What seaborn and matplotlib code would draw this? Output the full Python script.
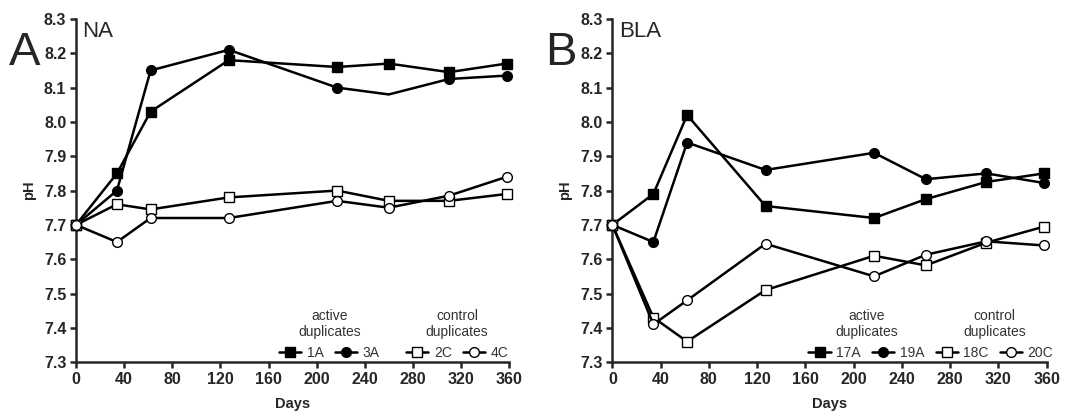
import numpy as np
import pandas as pd
import seaborn as sns
import matplotlib.pyplot as plt
from matplotlib.lines import Line2D

sns.set_style("ticks")
plt.rcParams['font.family'] = ['Liberation Sans', 'DejaVu Sans']

days = [0, 34, 62, 127, 217, 260, 310, 358]

# panel A - NA
na_1A = [7.70, 7.85, 8.03, 8.18, 8.16, 8.17, 8.145, 8.17]
na_3A = [7.70, 7.80, 8.15, 8.21, 8.10, 8.08, 8.125, 8.135]
na_2C = [7.70, 7.76, 7.745, 7.78, 7.80, 7.77, 7.77, 7.79]
na_4C = [7.70, 7.65, 7.72, 7.72, 7.77, 7.75, 7.785, 7.84]

# panel B - BLA
bla_17A = [7.70, 7.79, 8.02, 7.755, 7.72, 7.775, 7.825, 7.85]
bla_19A = [7.70, 7.65, 7.94, 7.86, 7.91, 7.833, 7.85, 7.822]
bla_18C = [7.70, 7.43, 7.36, 7.51, 7.61, 7.582, 7.648, 7.695]
bla_20C = [7.70, 7.41, 7.48, 7.645, 7.55, 7.613, 7.652, 7.64]

panels = [
    ('A', 'NA', [('1A', na_1A), ('3A', na_3A), ('2C', na_2C), ('4C', na_4C)]),
    ('B', 'BLA', [('17A', bla_17A), ('19A', bla_19A), ('18C', bla_18C), ('20C', bla_20C)]),
]

styles = [('s', 'black'), ('o', 'black'), ('s', 'white'), ('o', 'white')]

fig = plt.figure(figsize=(10.8, 4.12), dpi=100)
ax_pos = [[0.0704, 0.121, 0.401, 0.833], [0.567, 0.121, 0.402, 0.833]]

for i, (letter, name, series) in enumerate(panels):
    ax = fig.add_axes(ax_pos[i])
    for j, (lab, vals) in enumerate(series):
        mk, fc = styles[j]
        every = list(range(len(days)))
        if i == 0 and lab == '3A':
            every.remove(5)  # no marker drawn at day 260 for 3A
        sns.lineplot(x=days, y=vals, ax=ax, color='black', lw=1.8, sort=False,
                     estimator=None, marker=mk, markersize=7, markerfacecolor=fc,
                     markeredgecolor='black', markeredgewidth=1.0, markevery=every,
                     zorder=3, clip_on=False)
    ax.set_xlim(0, 360)
    ax.set_ylim(7.3, 8.3)
    ax.set_xticks(np.arange(0, 361, 40))
    ax.set_yticks(np.arange(7.3, 8.31, 0.1))
    ax.set_yticklabels([f'{v:.1f}' for v in np.arange(7.3, 8.31, 0.1)])
    ax.tick_params(direction='out', length=4, width=1.8, labelsize=11.5, pad=3)
    for t in ax.get_xticklabels() + ax.get_yticklabels():
        t.set_fontweight('bold')
    sns.despine(ax=ax)
    for s in ['left', 'bottom']:
        ax.spines[s].set_linewidth(1.8)
    ax.set_xlabel('Days', fontweight='bold', fontsize=10.5, labelpad=7)
    ax.set_ylabel('pH', fontweight='bold', fontsize=10.5, labelpad=6)
    ax.text(0.015, 0.995, name, transform=ax.transAxes, fontsize=16, va='top', ha='left')
    ax.text(-0.155, 0.9, letter, transform=ax.transAxes, fontsize=34, va='center', ha='left')

    handles = []
    for j, (lab, vals) in enumerate(series):
        mk, fc = styles[j]
        handles.append(Line2D([], [], color='black', lw=1.8, marker=mk, markersize=7,
                              markerfacecolor=fc, markeredgecolor='black'))
    labs = [s[0] for s in series]
    leg1 = ax.legend(handles[:2], labs[:2], title='active\nduplicates', ncol=2,
                     loc='lower center', bbox_to_anchor=(0.585, -0.01), frameon=False,
                     fontsize=10, title_fontsize=10, handlelength=1.6, handletextpad=0.4,
                     columnspacing=0.8, borderaxespad=0)
    ax.add_artist(leg1)
    leg2 = ax.legend(handles[2:], labs[2:], title='control\nduplicates', ncol=2,
                     loc='lower center', bbox_to_anchor=(0.88, -0.01), frameon=False,
                     fontsize=10, title_fontsize=10, handlelength=1.6, handletextpad=0.4,
                     columnspacing=0.8, borderaxespad=0)
    for lg in (leg1, leg2):
        for t in lg.get_texts():
            t.set_color('#333333')
        lg.get_title().set_color('#333333')
        lg.get_title().set_multialignment('center')

fig.savefig('out.png', dpi=100)
